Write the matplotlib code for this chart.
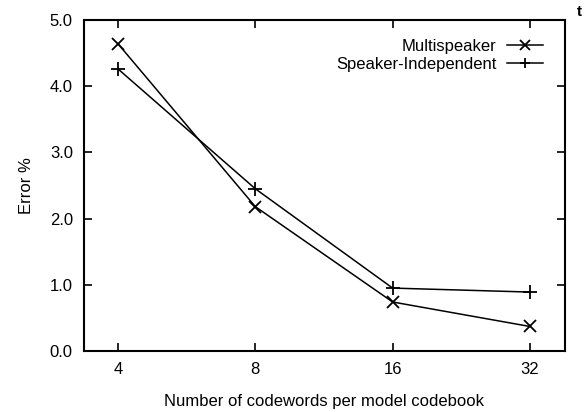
import matplotlib
matplotlib.use('Agg')
import matplotlib.pyplot as plt
import numpy as np

plt.rcParams['font.family'] = ['Liberation Sans', 'DejaVu Sans']

codewords = [4, 8, 16, 32]
multispeaker = [4.64, 2.18, 0.74, 0.37]
speaker_indep = [4.26, 2.45, 0.95, 0.89]
ytick_vals = [0.0, 1.0, 2.0, 3.0, 4.0, 5.0]

fig = plt.figure(figsize=(5.86, 4.12), dpi=100)
ax = fig.add_axes([0.1433, 0.1481, 0.8208, 0.8034])

x = np.log2(codewords)
ax.plot(x, multispeaker, color='black', lw=1.1, marker='x', ms=9, mew=1.3,
        label='Multispeaker')
ax.plot(x, speaker_indep, color='black', lw=1.1, marker='+', ms=10, mew=1.3,
        label='Speaker-Independent')

ax.set_xlim(1.752, 5.255)
ax.set_ylim(0, 5)
ax.set_xticks(x)
ax.set_xticklabels([str(c) for c in codewords])
ax.set_yticks(ytick_vals)
ax.set_yticklabels([f'{v:.1f}' for v in ytick_vals])
ax.tick_params(direction='in', length=6, width=1.2, top=True, right=True,
               labelsize=12, pad=8)
for s in ax.spines.values():
    s.set_linewidth(1.5)

ax.set_xlabel('Number of codewords per model codebook', fontsize=12, labelpad=12)
ax.set_ylabel('Error %', fontsize=12, labelpad=11)

ax.legend(loc='upper right', frameon=False, markerfirst=False, fontsize=12,
          handlelength=2.15, handletextpad=0.66, labelspacing=0.2,
          borderaxespad=0.0, borderpad=0.0, markerscale=0.75,
          bbox_to_anchor=(0.955, 0.943))

fig.text(0.985, 0.972, 't', fontsize=11, fontweight='bold', ha='left', va='center')

fig.savefig('out.png', dpi=100)
